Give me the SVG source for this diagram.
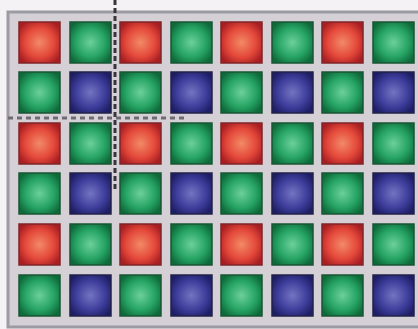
<svg xmlns="http://www.w3.org/2000/svg" width="418" height="329" viewBox="0 0 418 329">
<defs>
<radialGradient id="gr" cx="50%" cy="50%" r="60%"><stop offset="0" stop-color="#f28a66"/><stop offset="0.6" stop-color="#e4483a"/><stop offset="1" stop-color="#a81e22"/></radialGradient>
<radialGradient id="gg" cx="50%" cy="50%" r="60%"><stop offset="0" stop-color="#6cd09a"/><stop offset="0.6" stop-color="#26a464"/><stop offset="1" stop-color="#0e6a3a"/></radialGradient>
<radialGradient id="gb" cx="50%" cy="50%" r="60%"><stop offset="0" stop-color="#7474c2"/><stop offset="0.6" stop-color="#3e3e9c"/><stop offset="1" stop-color="#1e1e66"/></radialGradient>
<style>
.r{fill:url(#gr);stroke:#802428;stroke-width:1.5}
.g{fill:url(#gg);stroke:#1a5634;stroke-width:1.5}
.b{fill:url(#gb);stroke:#222248;stroke-width:1.5}
.d{fill:none;stroke-width:3}
</style>
</defs>
<rect width="418" height="329" fill="#f4f2f4"/>
<rect x="8" y="12" width="420" height="315" fill="#d4d0d6" stroke="#9c9aa2" stroke-width="3"/>
<g id="cells">
<g id="row1">
<rect class="r" x="19" y="22" width="41" height="41"/><rect class="g" x="70" y="22" width="41" height="41"/><rect class="r" x="120" y="22" width="41" height="41"/><rect class="g" x="171" y="22" width="41" height="41"/><rect class="r" x="221" y="22" width="41" height="41"/><rect class="g" x="272" y="22" width="41" height="41"/><rect class="r" x="322" y="22" width="41" height="41"/><rect class="g" x="373" y="22" width="41" height="41"/>
</g>
<g id="row2">
<rect class="g" x="19" y="72" width="41" height="41"/><rect class="b" x="70" y="72" width="41" height="41"/><rect class="g" x="120" y="72" width="41" height="41"/><rect class="b" x="171" y="72" width="41" height="41"/><rect class="g" x="221" y="72" width="41" height="41"/><rect class="b" x="272" y="72" width="41" height="41"/><rect class="g" x="322" y="72" width="41" height="41"/><rect class="b" x="373" y="72" width="41" height="41"/>
</g>
<g id="row3">
<rect class="r" x="19" y="123" width="41" height="41"/><rect class="g" x="70" y="123" width="41" height="41"/><rect class="r" x="120" y="123" width="41" height="41"/><rect class="g" x="171" y="123" width="41" height="41"/><rect class="r" x="221" y="123" width="41" height="41"/><rect class="g" x="272" y="123" width="41" height="41"/><rect class="r" x="322" y="123" width="41" height="41"/><rect class="g" x="373" y="123" width="41" height="41"/>
</g>
<g id="row4">
<rect class="g" x="19" y="173" width="41" height="41"/><rect class="b" x="70" y="173" width="41" height="41"/><rect class="g" x="120" y="173" width="41" height="41"/><rect class="b" x="171" y="173" width="41" height="41"/><rect class="g" x="221" y="173" width="41" height="41"/><rect class="b" x="272" y="173" width="41" height="41"/><rect class="g" x="322" y="173" width="41" height="41"/><rect class="b" x="373" y="173" width="41" height="41"/>
</g>
<g id="row5">
<rect class="r" x="19" y="224" width="41" height="41"/><rect class="g" x="70" y="224" width="41" height="41"/><rect class="r" x="120" y="224" width="41" height="41"/><rect class="g" x="171" y="224" width="41" height="41"/><rect class="r" x="221" y="224" width="41" height="41"/><rect class="g" x="272" y="224" width="41" height="41"/><rect class="r" x="322" y="224" width="41" height="41"/><rect class="g" x="373" y="224" width="41" height="41"/>
</g>
<g id="row6">
<rect class="g" x="19" y="275" width="41" height="41"/><rect class="b" x="70" y="275" width="41" height="41"/><rect class="g" x="120" y="275" width="41" height="41"/><rect class="b" x="171" y="275" width="41" height="41"/><rect class="g" x="221" y="275" width="41" height="41"/><rect class="b" x="272" y="275" width="41" height="41"/><rect class="g" x="322" y="275" width="41" height="41"/><rect class="b" x="373" y="275" width="41" height="41"/>
</g>
</g>
<g id="dashes">
<line class="d" x1="8" y1="118" x2="186" y2="118" stroke="#6e6c72" stroke-dasharray="5 4"/>
<line class="d" x1="115" y1="0" x2="115" y2="190" stroke="#38363a" stroke-dasharray="5 3"/>
</g>
</svg>
